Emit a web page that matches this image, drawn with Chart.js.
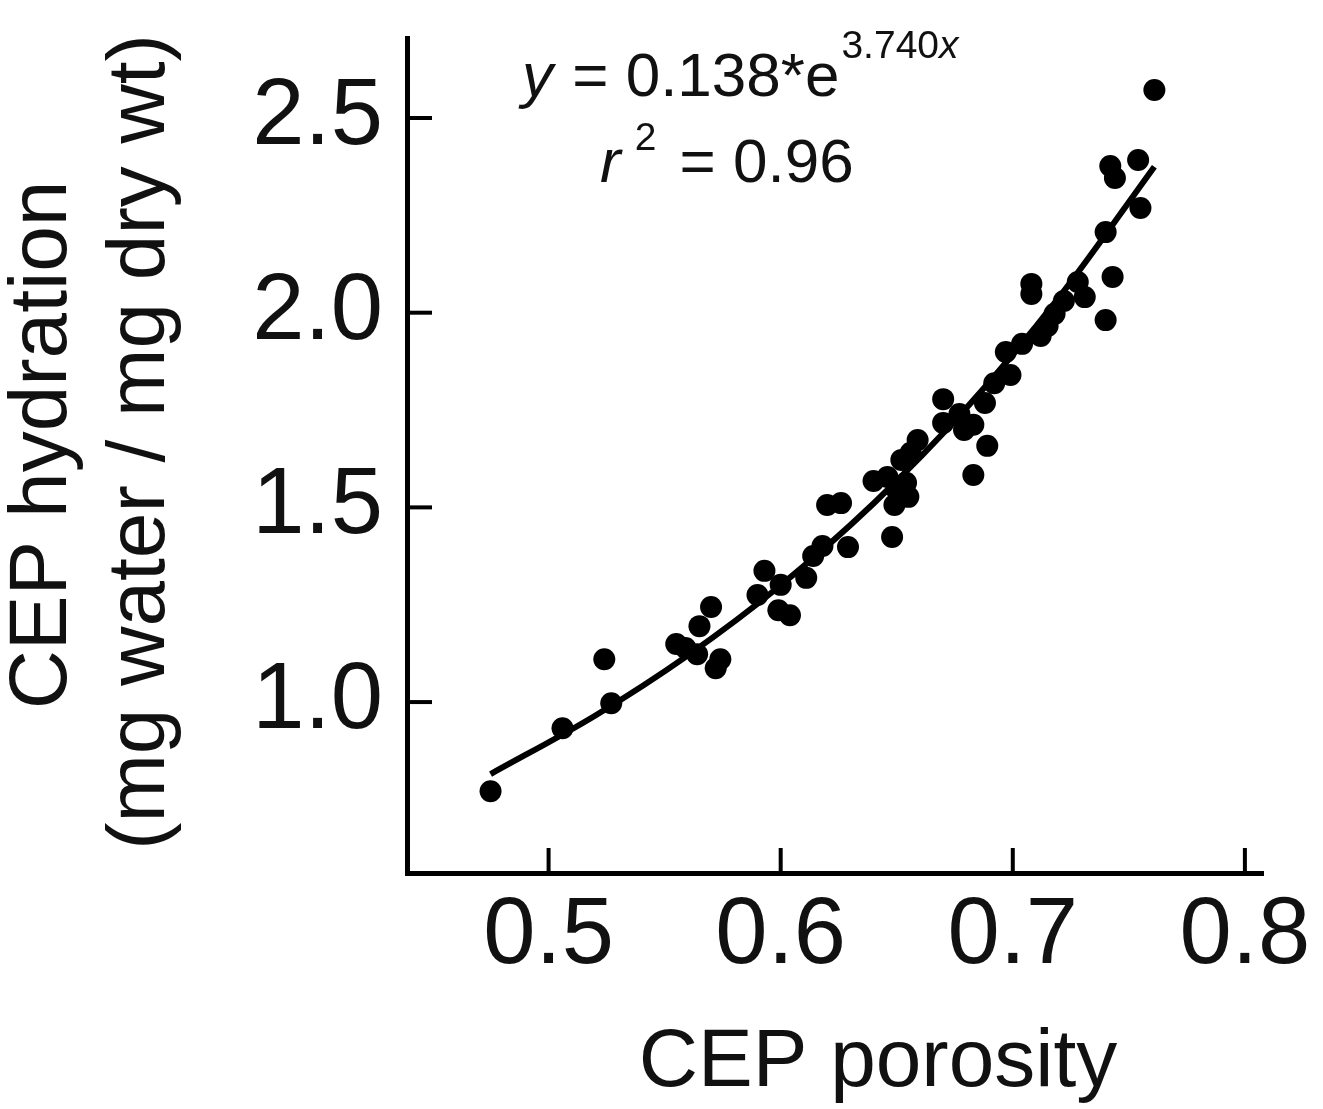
<!DOCTYPE html>
<html>
<head>
<meta charset="utf-8">
<script src="https://cdn.jsdelivr.net/npm/chart.js@4.4.1/dist/chart.umd.min.js"></script>
<style>
  html, body { margin: 0; padding: 0; background: #ffffff; }
  #wrap { width: 1323px; height: 1109px; position: relative; }
  canvas { display: block; }
</style>
</head>
<body>
<div id="wrap"><canvas id="c" width="1323" height="1109"></canvas></div>
<script>
// ---- data ----
const porosity = [
  0.475, 0.506, 0.524, 0.527, 0.555, 0.559, 0.564, 0.565, 0.570, 0.574,
  0.572, 0.590, 0.593, 0.600, 0.599, 0.604, 0.611, 0.614, 0.618, 0.629,
  0.620, 0.626, 0.648, 0.640, 0.646, 0.649, 0.650, 0.654, 0.655, 0.652,
  0.656, 0.659, 0.670, 0.670, 0.677, 0.679, 0.683, 0.689, 0.683, 0.688,
  0.692, 0.699, 0.697, 0.704, 0.712, 0.715, 0.718, 0.722, 0.728, 0.731,
  0.708, 0.708, 0.743, 0.740, 0.740, 0.755, 0.742, 0.744, 0.754, 0.761
];
const hydration = [
  0.771, 0.933, 1.110, 0.997, 1.149, 1.139, 1.123, 1.195, 1.244, 1.110,
  1.087, 1.275, 1.337, 1.301, 1.236, 1.223, 1.319, 1.375, 1.401, 1.398,
  1.506, 1.511, 1.424, 1.568, 1.578, 1.506, 1.545, 1.563, 1.527, 1.622,
  1.640, 1.673, 1.778, 1.717, 1.740, 1.699, 1.712, 1.658, 1.583, 1.768,
  1.819, 1.840, 1.899, 1.920, 1.940, 1.966, 1.997, 2.030, 2.079, 2.040,
  2.074, 2.048, 2.092, 1.981, 2.207, 2.269, 2.377, 2.346, 2.392, 2.572
];
// fitted curve
const fitPorosity  = [0.475, 0.520, 0.560, 0.600, 0.640, 0.680, 0.720, 0.761];
const fitHydration = [0.815, 0.965, 1.120, 1.300, 1.510, 1.755, 2.040, 2.375];

const xTicks = [0.5, 0.6, 0.7, 0.8];
const yTicks = [1.0, 1.5, 2.0, 2.5];
const xTitle = 'CEP porosity';
const yTitle = ['CEP hydration', '(mg water / mg dry wt)'];
const eqMain = ' = 0.138*e';
const eqExp = '3.740';
const r2Text = ' = 0.96';

const FONT = '"Liberation Sans", Arial, Helvetica, sans-serif';

const decorPlugin = {
  id: 'decor',
  afterDraw(chart) {
    const ctx = chart.ctx;
    const xs = chart.scales.x, ys = chart.scales.y;
    const area = chart.chartArea;
    ctx.save();
    // inward tick marks
    ctx.strokeStyle = '#000';
    ctx.lineWidth = 4;
    ctx.lineCap = 'butt';
    xTicks.forEach(v => {
      const px = xs.getPixelForValue(v);
      ctx.beginPath();
      ctx.moveTo(px, area.bottom);
      ctx.lineTo(px, area.bottom - 25);
      ctx.stroke();
    });
    yTicks.forEach(v => {
      const py = ys.getPixelForValue(v);
      ctx.beginPath();
      ctx.moveTo(area.left, py);
      ctx.lineTo(area.left + 25, py);
      ctx.stroke();
    });

    ctx.fillStyle = '#111';
    // axis titles
    ctx.textAlign = 'center';
    ctx.textBaseline = 'middle';
    ctx.font = '82px ' + FONT;
    ctx.fillText(xTitle, 878, 1063);
    ctx.save();
    ctx.translate(43, 445);
    ctx.rotate(-Math.PI / 2);
    ctx.fillText(yTitle[0], 0, 0);
    ctx.restore();
    ctx.save();
    ctx.translate(141, 442);
    ctx.rotate(-Math.PI / 2);
    ctx.fillText(yTitle[1], 0, 0);
    ctx.restore();

    // equation
    ctx.textAlign = 'left';
    ctx.textBaseline = 'alphabetic';
    let x = 522;
    ctx.font = 'italic 62px ' + FONT;
    ctx.fillText('y', x, 96);
    x += ctx.measureText('y').width + 2;
    ctx.font = '62px ' + FONT;
    ctx.fillText(eqMain, x, 96);
    x += ctx.measureText(eqMain).width + 2;
    ctx.font = '39px ' + FONT;
    ctx.fillText(eqExp, x, 58);
    x += ctx.measureText(eqExp).width;
    ctx.font = 'italic 39px ' + FONT;
    ctx.fillText('x', x, 58);

    // r^2
    x = 600;
    ctx.font = 'italic 62px ' + FONT;
    ctx.fillText('r', x, 182);
    x += ctx.measureText('r').width + 14;
    ctx.font = '39px ' + FONT;
    ctx.fillText('2', x, 150);
    x += ctx.measureText('2').width + 6;
    ctx.font = '62px ' + FONT;
    ctx.fillText(r2Text, x, 182);
    ctx.restore();
  }
};

const points = porosity.map((p, i) => ({ x: p, y: hydration[i] }));
const fitPts = fitPorosity.map((p, i) => ({ x: p, y: fitHydration[i] }));

new Chart(document.getElementById('c'), {
  type: 'scatter',
  data: {
    datasets: [
      {
        label: 'Measured',
        data: points,
        pointRadius: 11,
        pointHoverRadius: 11,
        backgroundColor: '#000',
        borderWidth: 0,
        order: 2
      },
      {
        type: 'line',
        label: 'Exponential fit',
        data: fitPts,
        showLine: true,
        pointRadius: 0,
        borderColor: '#000',
        borderWidth: 6,
        cubicInterpolationMode: 'monotone',
        fill: false,
        order: 1
      }
    ]
  },
  options: {
    responsive: false,
    animation: false,
    layout: { padding: { left: 0, right: 60, top: 38, bottom: 0 } },
    plugins: { legend: { display: false }, tooltip: { enabled: false } },
    scales: {
      x: {
        type: 'linear',
        min: 0.439,
        max: 0.8078,
        afterBuildTicks: s => { s.ticks = xTicks.map(v => ({ value: v })); },
        afterFit: s => { s.height = 236; s.paddingLeft = 0; s.paddingRight = 0; },
        grid: { display: false, drawTicks: false },
        border: { display: true, width: 5, color: '#000' },
        ticks: {
          color: '#111',
          padding: 8,
          font: { size: 94, family: FONT },
          callback: v => Number(v).toFixed(1)
        }
      },
      y: {
        type: 'linear',
        min: 0.561,
        max: 2.7055,
        afterBuildTicks: s => { s.ticks = yTicks.map(v => ({ value: v })); },
        afterFit: s => { s.width = 407; s.paddingTop = 0; s.paddingBottom = 0; },
        grid: { display: false, drawTicks: false },
        border: { display: true, width: 5, color: '#000' },
        ticks: {
          color: '#111',
          padding: 24,
          font: { size: 94, family: FONT },
          callback: v => Number(v).toFixed(1)
        }
      }
    }
  },
  plugins: [decorPlugin]
});
</script>
</body>
</html>
